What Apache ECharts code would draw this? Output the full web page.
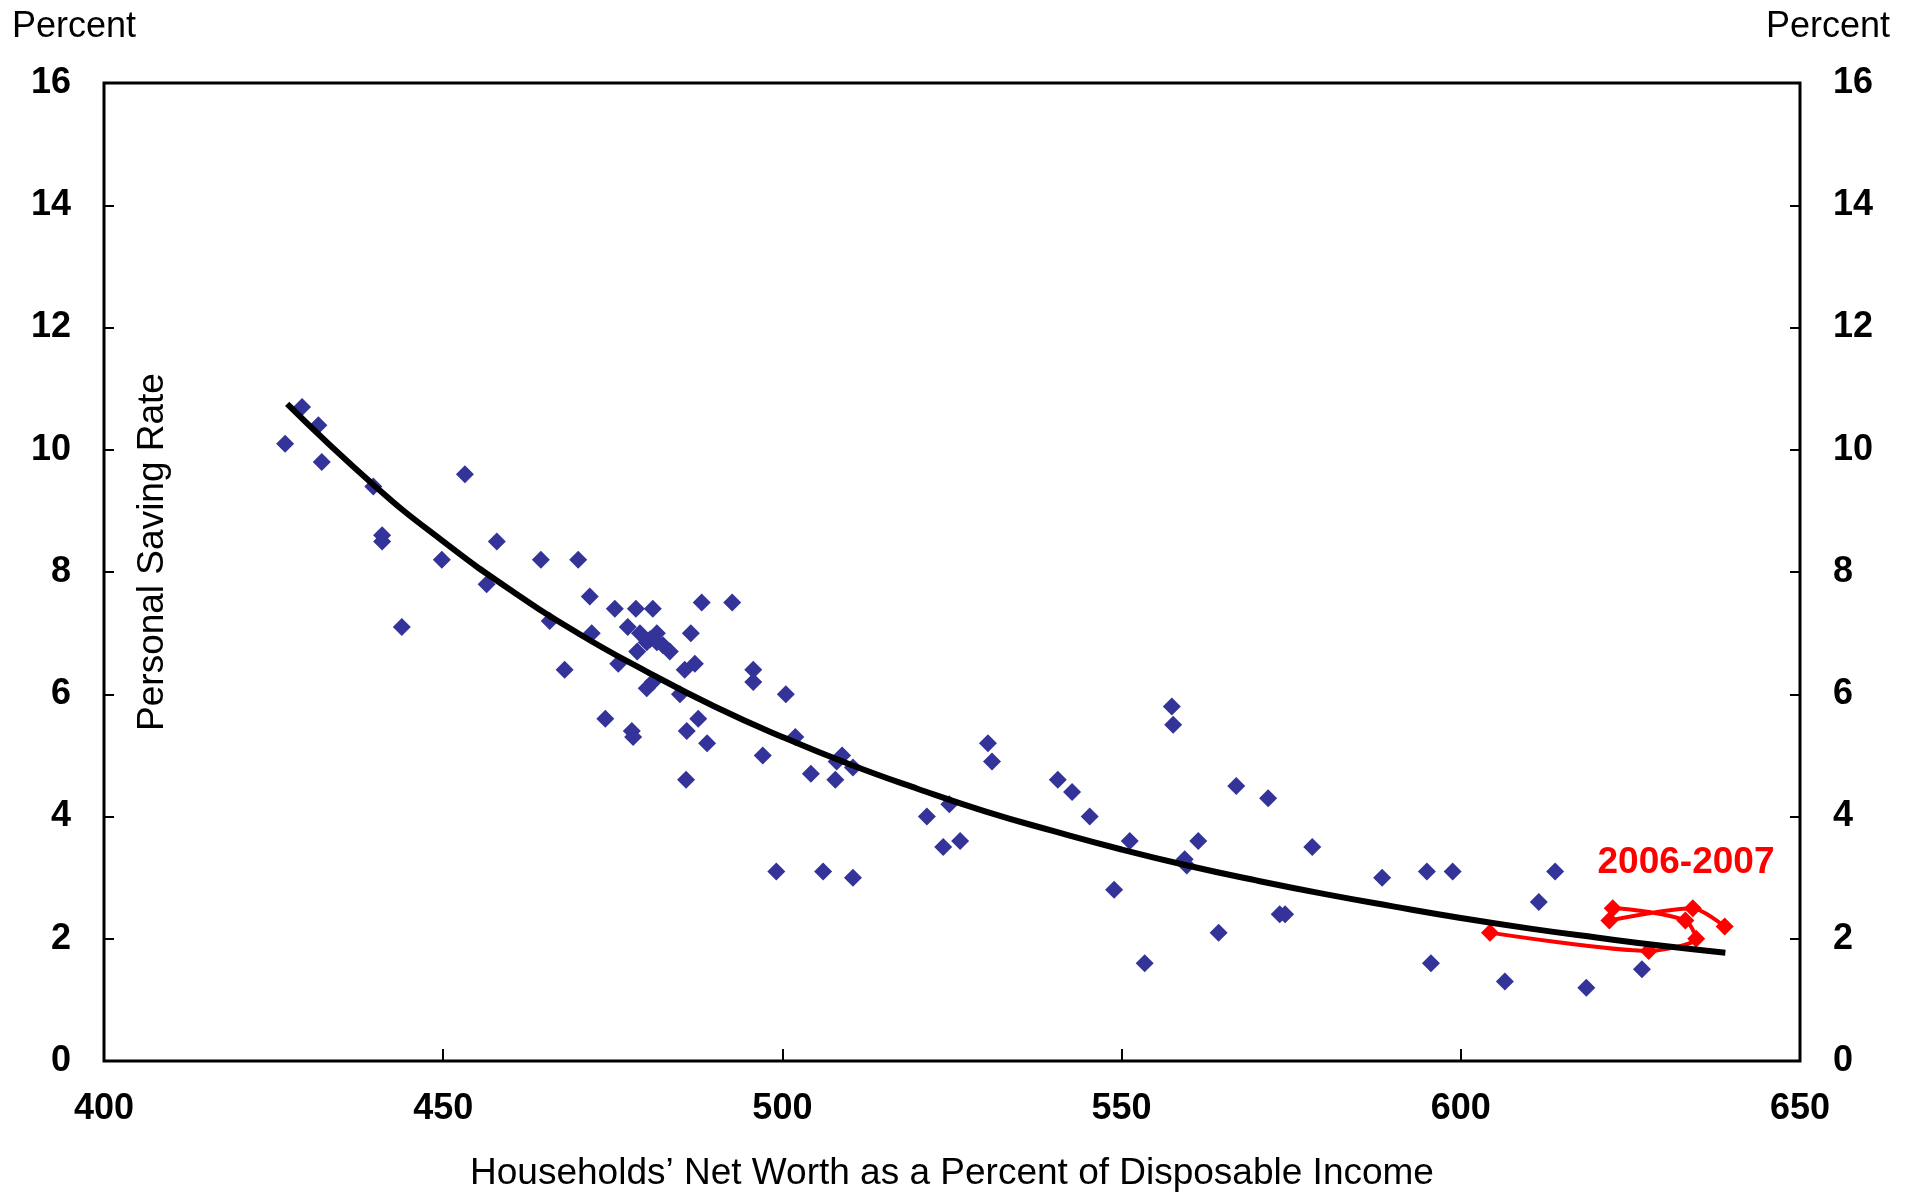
<!DOCTYPE html>
<html>
<head>
<meta charset="utf-8">
<script src="https://cdn.jsdelivr.net/npm/echarts@6/dist/echarts.min.js"></script>
<style>
  html, body { margin: 0; padding: 0; background: #fff; }
  #savingChart { width: 1916px; height: 1193px; }
</style>
</head>
<body>
<div id="savingChart"></div>
<script>
// net worth (% of disposable income) vs personal saving rate, quarterly
const netWorth = [426.7, 429.2, 431.6, 432.1, 439.7, 441.0, 441.0, 443.9, 449.8, 453.2,
  456.4, 457.9, 464.4, 465.7, 467.9, 469.9, 471.6, 471.9, 473.9, 475.3,
  475.8, 477.2, 477.8, 478.0, 478.4, 478.6, 479.0, 480.0, 480.0, 480.5,
  480.9, 480.9, 481.5, 481.5, 482.4, 483.4, 484.9, 485.6, 485.8, 485.9,
  486.5, 487.1, 487.6, 488.1, 488.9, 492.6, 495.7, 495.7, 497.1, 499.1,
  500.5, 501.9, 504.2, 506.0, 507.8, 508.0, 508.8, 510.4, 510.4, 521.3,
  523.7, 524.6, 526.2, 530.3, 530.9, 540.6, 542.7, 545.3, 548.9, 551.2,
  553.4, 557.4, 557.6, 559.3, 559.6, 561.3, 564.3, 566.9, 571.6, 573.3,
  574.1, 578.1, 588.4, 595.0, 595.6, 598.8, 606.5, 611.5, 613.9, 618.5, 626.7];
const savingRate = [10.1, 10.7, 10.4, 9.8, 9.4, 8.6, 8.5, 7.1, 8.2, 9.6,
  7.8, 8.5, 8.2, 7.2, 6.4, 8.2, 7.6, 7.0, 5.6, 7.4,
  6.5, 7.1, 5.4, 5.3, 7.4, 6.7, 7.0, 6.1, 6.85, 6.9,
  6.2, 7.4, 7.0, 6.85, 6.8, 6.7, 6.0, 6.4, 4.6, 5.4,
  7.0, 6.5, 5.6, 7.5, 5.2, 7.5, 6.4, 6.2, 5.0, 3.1,
  6.0, 5.3, 4.7, 3.1, 4.6, 4.9, 5.0, 4.8, 3.0, 4.0,
  3.5, 4.2, 3.6, 5.2, 4.9, 4.6, 4.4, 4.0, 2.8, 3.6,
  1.6, 5.8, 5.5, 3.3, 3.2, 3.6, 2.1, 4.5, 4.3, 2.4,
  2.4, 3.5, 3.0, 3.1, 1.6, 3.1, 1.3, 2.6, 3.1, 1.2, 1.5];

// 2006-2007 quarters
const recentWorth = [604.3, 627.7, 634.7, 633.1, 622.4, 621.9, 634.2, 638.9];
const recentRate = [2.1, 1.8, 2.0, 2.3, 2.5, 2.3, 2.5, 2.2];

// trend curve
const trendX = [427, 440, 450, 460, 470, 480, 490, 500, 510, 520, 530, 540, 550, 560, 570, 580, 590, 600, 610, 620, 630, 639];
const trendY = [10.75, 9.40, 8.50, 7.70, 6.99, 6.37, 5.80, 5.30, 4.85, 4.45, 4.08, 3.76, 3.46, 3.19, 2.95, 2.73, 2.53, 2.34, 2.17, 2.02, 1.88, 1.77];

const xTicks = [400, 450, 500, 550, 600, 650];
const yTicks = [0, 2, 4, 6, 8, 10, 12, 14, 16];

const fontFam = '"Liberation Sans", Arial, sans-serif';

function pairs (xs, ys) {
  return xs.map((x, i) => [x, ys[i]]);
}

const myChart = echarts.init(document.getElementById('savingChart'));

const yAxisBase = {
  type: 'value',
  min: yTicks[0],
  max: yTicks[yTicks.length - 1],
  interval: 2,
  axisLine: {show: false},
  axisTick: {show: true, inside: true, length: 10, lineStyle: {color: '#000', width: 2}},
  splitLine: {show: false},
  axisLabel: {
    margin: 33,
    color: '#000',
    fontSize: 36,
    fontWeight: 'bold',
    fontFamily: fontFam
  }
};

const option = {
  animation: false,
  backgroundColor: '#fff',
  grid: {
    left: 104,
    right: 116,
    top: 83,
    bottom: 132,
    outerBoundsMode: 'none',
    show: true,
    borderColor: '#000',
    borderWidth: 3
  },
  xAxis: {
    type: 'value',
    min: xTicks[0],
    max: xTicks[xTicks.length - 1],
    interval: 50,
    name: 'Households\u2019 Net Worth as a Percent of Disposable Income',
    nameLocation: 'middle',
    nameGap: 94,
    nameTextStyle: {color: '#000', fontSize: 37, fontFamily: fontFam},
    axisLine: {show: false},
    axisTick: {show: true, inside: true, length: 12, lineStyle: {color: '#000', width: 2}},
    splitLine: {show: false},
    axisLabel: {
      margin: 30,
      color: '#000',
      fontSize: 36,
      fontWeight: 'bold',
      fontFamily: fontFam
    }
  },
  yAxis: [
    Object.assign({position: 'left'}, yAxisBase),
    Object.assign({position: 'right'}, yAxisBase)
  ],
  graphic: [
    {type: 'text', left: 12, top: 9, style: {text: 'Percent', fontSize: 36, fontFamily: fontFam, fill: '#000'}},
    {type: 'text', right: 26, top: 9, style: {text: 'Percent', fontSize: 36, fontFamily: fontFam, fill: '#000'}},
    {
      type: 'text', x: 153, y: 552, rotation: Math.PI / 2,
      style: {text: 'Personal Saving Rate', fontSize: 37, fontFamily: fontFam, fill: '#000', align: 'center', verticalAlign: 'middle'}
    },
    {
      type: 'text', x: 1686, y: 863, z: 10,
      style: {text: '2006-2007', fontSize: 37, fontWeight: 'bold', fontFamily: fontFam, fill: '#ff0000', align: 'center', verticalAlign: 'middle'}
    }
  ],
  series: [
    {
      name: 'quarters',
      type: 'scatter',
      symbol: 'diamond',
      symbolSize: 18,
      itemStyle: {color: '#333399', opacity: 1},
      z: 2,
      data: pairs(netWorth, savingRate)
    },
    {
      name: '2006-2007',
      type: 'line',
      symbol: 'diamond',
      symbolSize: 18,
      showSymbol: true,
      smooth: 0.25,
      itemStyle: {color: '#ff0000', opacity: 1},
      lineStyle: {color: '#ff0000', width: 4},
      z: 3,
      data: pairs(recentWorth, recentRate)
    },
    {
      name: 'trend',
      type: 'line',
      showSymbol: false,
      smooth: true,
      lineStyle: {color: '#000', width: 6},
      z: 4,
      data: pairs(trendX, trendY)
    }
  ]
};

myChart.setOption(option);
</script>
</body>
</html>
